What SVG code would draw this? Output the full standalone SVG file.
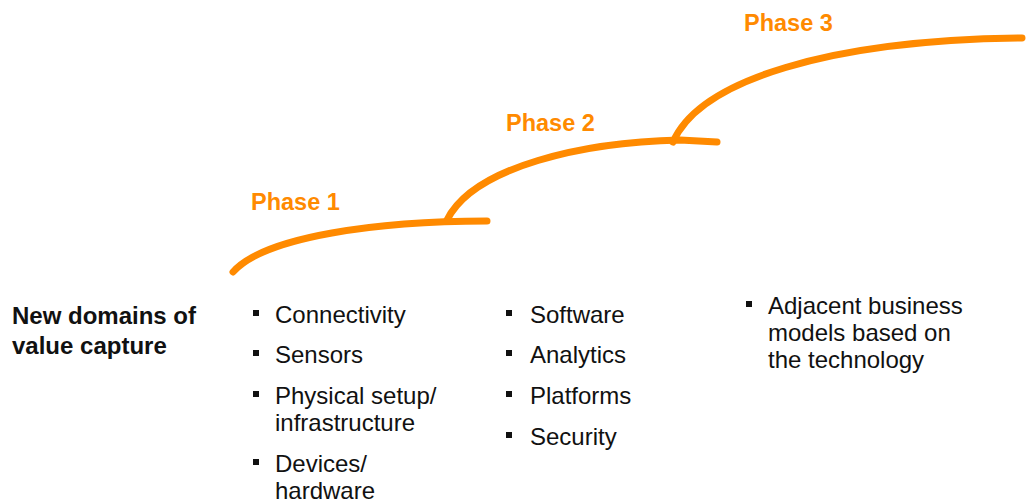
<svg xmlns="http://www.w3.org/2000/svg" width="1027" height="502" viewBox="0 0 1027 502">
<style>
.cur{fill:none;stroke:#FF8A00;stroke-width:7;stroke-linecap:round;stroke-linejoin:round}
.ph{font-family:"Liberation Sans",Arial,sans-serif;font-weight:bold;font-size:23.5px;fill:#FF8A00}
.t{font-family:"Liberation Sans",Arial,sans-serif;font-size:24px;fill:#111}
.b{font-family:"Liberation Sans",Arial,sans-serif;font-size:24px;font-weight:bold;fill:#111}
.bl{fill:#111}
</style>
<rect width="1027" height="502" fill="#fff"/>
<g id="connectors">
<path class="cur" d="M233,272 C265,236 380,221 487,221"/>
<path class="cur" d="M447,220 C474,166 585,142 680,140 L717,142"/>
<path class="cur" d="M673,142 C700,80 830,40 1022,38"/>
</g>
<g id="phase1"><text class="ph" x="251" y="210">Phase 1</text></g>
<g id="phase2"><text class="ph" x="506" y="131">Phase 2</text></g>
<g id="phase3"><text class="ph" x="744" y="31">Phase 3</text></g>
<g id="label"><text class="b" x="12" y="324">New domains of</text><text class="b" x="12" y="354">value capture</text></g>
<g id="col1">
<rect class="bl" x="253" y="310" width="6" height="6"/><text class="t" x="275" y="323">Connectivity</text>
<rect class="bl" x="253" y="350" width="6" height="6"/><text class="t" x="275" y="363">Sensors</text>
<rect class="bl" x="253" y="391" width="6" height="6"/><text class="t" x="275" y="404">Physical setup/</text><text class="t" x="275" y="431">infrastructure</text>
<rect class="bl" x="253" y="459" width="6" height="6"/><text class="t" x="275" y="472">Devices/</text><text class="t" x="275" y="499">hardware</text>
</g>
<g id="col2">
<rect class="bl" x="506" y="310" width="6" height="6"/><text class="t" x="530" y="323">Software</text>
<rect class="bl" x="506" y="350" width="6" height="6"/><text class="t" x="530" y="363">Analytics</text>
<rect class="bl" x="506" y="391" width="6" height="6"/><text class="t" x="530" y="404">Platforms</text>
<rect class="bl" x="506" y="432" width="6" height="6"/><text class="t" x="530" y="445">Security</text>
</g>
<g id="col3">
<rect class="bl" x="746" y="301" width="6" height="6"/><text class="t" x="768" y="314">Adjacent business</text><text class="t" x="768" y="341">models based on</text><text class="t" x="768" y="368">the technology</text>
</g>
</svg>
